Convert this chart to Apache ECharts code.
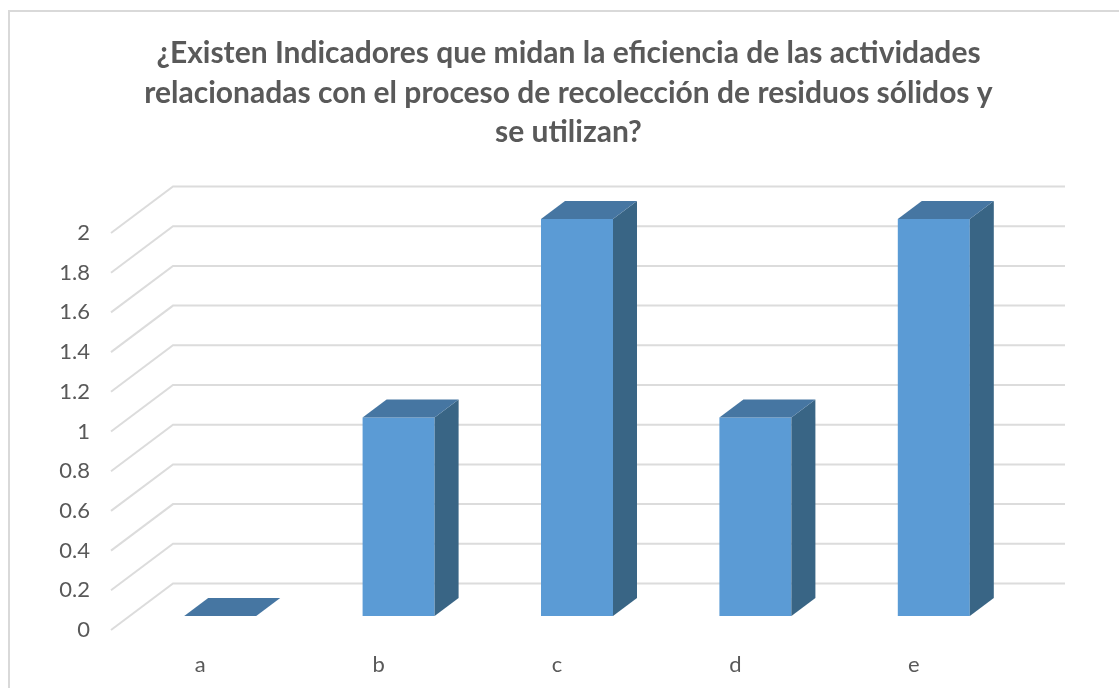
<!DOCTYPE html>
<html>
<head>
<meta charset="utf-8">
<title>Indicadores</title>
<style>
	html, body { margin: 0; padding: 0; background: #fff; }
	#main { width: 1119px; height: 688px; }
</style>
<script src="https://cdn.jsdelivr.net/npm/echarts@6/dist/echarts.min.js"></script>
</head>
<body>
<div id="main"></div>
<script>
	var titleText = '¿Existen Indicadores que midan la eficiencia de las actividades\nrelacionadas con el proceso de recolección de residuos sólidos y\nse utilizan?';
	var categories = ['a', 'b', 'c', 'd', 'e'];
	var values = [0, 1, 2, 1, 2];
	var gridTicks = [0, 0.2, 0.4, 0.6, 0.8, 1, 1.2, 1.4, 1.6, 1.8, 2];

	//perspectiva de la pared
	var depthX = 62, depthY = 46.5;
	var barShiftX = 20, barShiftY = 14;
	var barW = 72, barDepthX = 24, barDepthY = 18;

	var option = {
		animation: false,
		backgroundColor: '#fff',
		textStyle: { fontFamily: 'Lato' },
		title: {
			text: titleText,
			left: 563.5,
			top: 29,
			textAlign: 'center',
			textStyle: {
				color: '#595959',
				fontFamily: 'Lato',
				fontWeight: 'bold',
				fontSize: 30,
				lineHeight: 39.5
			}
		},
		grid: { left: 111, top: 233, width: 892, height: 397 },
		xAxis: {
			type: 'category',
			data: categories,
			axisLine: { show: false },
			axisTick: { show: false },
			splitLine: { show: false },
			axisLabel: { color: '#595959', fontSize: 22, fontFamily: 'Lato', margin: 24 }
		},
		yAxis: {
			type: 'value',
			min: 0,
			max: 2,
			interval: 0.2,
			axisLine: { show: false },
			axisTick: { show: false },
			splitLine: { show: false },
			axisLabel: { color: '#595959', fontSize: 22, fontFamily: 'Lato', margin: 21, padding: [3, 0, 0, 0] }
		},
		graphic: [{
			type: 'polyline',
			shape: { points: [[9, 688], [9, 11], [1119, 11]] },
			style: { fill: null, stroke: '#d9d9d9', lineWidth: 2 }
		}],
		series: [{
			//lineas de la pared lateral y del fondo
			type: 'custom',
			clip: false,
			silent: true,
			z: 1,
			data: gridTicks.map(function(v) { return [v]; }),
			encode: { y: 0 },
			renderItem: function(params, api) {
				var v = api.value(0);
				var band = api.size([1, 0])[0];
				var first = api.coord([0, v]);
				var last = api.coord([categories.length - 1, v]);
				var x0 = first[0] - band / 2, x1 = last[0] + band / 2, y = first[1];
				return {
					type: 'polyline',
					shape: { points: [[x0, y], [x0 + depthX, y - depthY], [x1 + depthX, y - depthY]] },
					style: { fill: null, stroke: '#dcdcdc', lineWidth: 2 }
				};
			}
		}, {
			//barras 3d
			type: 'custom',
			clip: false,
			silent: true,
			z: 2,
			data: values.map(function(v, i) { return [i, v]; }),
			encode: { x: 0, y: 1 },
			renderItem: function(params, api) {
				var c = api.value(0);
				var top = api.coord([c, api.value(1)]);
				var base = api.coord([c, 0]);
				var l = top[0] - barW / 2 + barShiftX, r = l + barW;
				var t = top[1] - barShiftY, b = base[1] - barShiftY;
				return {
					type: 'group',
					children: [{
						type: 'polygon',
						shape: { points: [[l, b], [r, b], [r, t], [l, t]] },
						style: { fill: '#5b9bd5' }
					}, {
						type: 'polygon',
						shape: { points: [[r, b], [r + barDepthX, b - barDepthY], [r + barDepthX, t - barDepthY], [r, t]] },
						style: { fill: '#396585' }
					}, {
						type: 'polygon',
						shape: { points: [[l, t], [r, t], [r + barDepthX, t - barDepthY], [l + barDepthX, t - barDepthY]] },
						style: { fill: '#4676a2' }
					}]
				};
			}
		}]
	};
	var myChart = echarts.init(document.getElementById('main'));
	myChart.setOption(option, true);
</script>
</body>
</html>
